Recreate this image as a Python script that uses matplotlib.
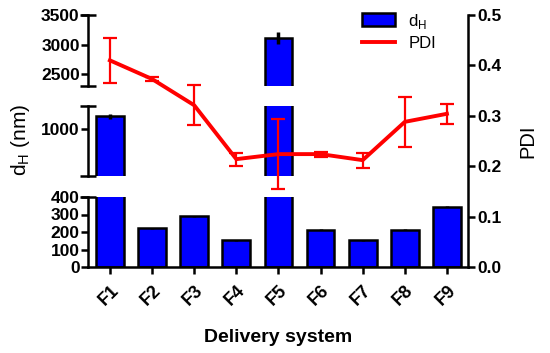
import matplotlib
matplotlib.use("Agg")
import matplotlib.pyplot as plt
from matplotlib.patches import Patch
from matplotlib.lines import Line2D

plt.rcParams['font.family'] = ['Liberation Sans', 'DejaVu Sans']

systems = ["F1", "F2", "F3", "F4", "F5", "F6", "F7", "F8", "F9"]
dh = [1056, 221, 291, 154, 3106, 212, 154, 214, 345]
dh_err = [10, 3, 3, 3, 100, 3, 3, 5, 3]
pdi = [0.410, 0.373, 0.321, 0.214, 0.224, 0.224, 0.212, 0.288, 0.304]
pdi_err = [0.044, 0.004, 0.040, 0.013, 0.070, 0.005, 0.015, 0.050, 0.020]

# broken left axis: (limits, ticks), bottom to top
segments = [((0, 400), [0, 100, 200, 300, 400]),
            ((800, 1100), [1000]),
            ((2300, 3500), [2500, 3000, 3500])]

W, H = 550, 353
fig = plt.figure(figsize=(W / 100, H / 100), dpi=100)

x0, x1 = 88, 468
seg_px = [(197, 267), (106, 176), (15, 86)]
x = list(range(len(systems)))
xlim = (-0.52, 8.5)

def frac(px_left, px_top, px_right, px_bot):
    return [px_left / W, 1 - px_bot / H, (px_right - px_left) / W, (px_bot - px_top) / H]

seg_axes = []
for i, ((lims, ticks), (top, bot)) in enumerate(zip(segments, seg_px)):
    ax = fig.add_axes(frac(x0, top, x1, bot))
    ax.bar(x, dh, width=0.66, color='#0000ff', edgecolor='black', linewidth=1.8,
           yerr=dh_err, error_kw=dict(ecolor='black', elinewidth=2.5, capsize=0))
    ax.set_ylim(*lims)
    ax.set_xlim(*xlim)
    ax.set_yticks(ticks)
    ax.set_facecolor('none')
    for s in ['top', 'right']:
        ax.spines[s].set_visible(False)
    ax.spines['left'].set_linewidth(1.8)
    ax.tick_params(axis='y', direction='out', length=5, width=1.8, labelsize=12.5, pad=1)
    for lab in ax.get_yticklabels():
        lab.set_fontweight('bold')
    # caps at segment ends
    ends = [1] if i == 0 else [0, 1]
    for e in ends:
        ax.plot([0], [e], marker='_', markersize=12, markeredgewidth=1.8, color='black',
                transform=ax.transAxes, clip_on=False)
    if i == 0:
        ax.spines['bottom'].set_linewidth(1.8)
        ax.set_xticks(x)
        ax.set_xticklabels(systems, rotation=45, ha='right', rotation_mode='anchor',
                           fontsize=13, fontweight='bold')
        ax.tick_params(axis='x', direction='out', length=5, width=1.8, pad=6)
        ax.set_xlabel("Delivery system", fontsize=14, fontweight='bold', labelpad=14)
    else:
        ax.spines['bottom'].set_visible(False)
        ax.set_xticks([])
    seg_axes.append(ax)

# overlay axis for PDI (full height, right side)
axr = fig.add_axes(frac(x0, 15, x1, 267))
axr.set_facecolor('none')
axr.errorbar(x, pdi, yerr=pdi_err, color='#ff0000', linewidth=2.8, elinewidth=1.6,
             capsize=5, capthick=1.6)
axr.set_xlim(*xlim)
axr.set_ylim(0, 0.5)
axr.set_xticks([])
for s in ['top', 'left', 'bottom']:
    axr.spines[s].set_visible(False)
axr.spines['right'].set_linewidth(1.8)
axr.yaxis.tick_right()
axr.yaxis.set_label_position('right')
axr.set_yticks([0.0, 0.1, 0.2, 0.3, 0.4, 0.5])
axr.set_yticklabels(["0.0", "0.1", "0.2", "0.3", "0.4", "0.5"], fontsize=12.5, fontweight='bold')
axr.tick_params(axis='y', direction='out', length=5, width=1.8, pad=2)
axr.set_ylabel("PDI", fontsize=14.5, labelpad=12)

fig.text(20 / W, 1 - 140 / H, "d$_\\mathregular{H}$ (nm)", rotation=90, fontsize=15,
         ha='center', va='center')

handles = [Patch(facecolor='#0000ff', edgecolor='black', linewidth=1.8),
           Line2D([0], [0], color='#ff0000', linewidth=2.8)]
fig.legend(handles, ["d$_\\mathregular{H}$", "PDI"], loc='upper left',
           bbox_to_anchor=(355 / W, 1 - 5 / H), frameon=False, fontsize=12,
           handlelength=2.0, handleheight=0.8, labelspacing=0.3, borderaxespad=0)

fig.savefig("out.png", dpi=100)
